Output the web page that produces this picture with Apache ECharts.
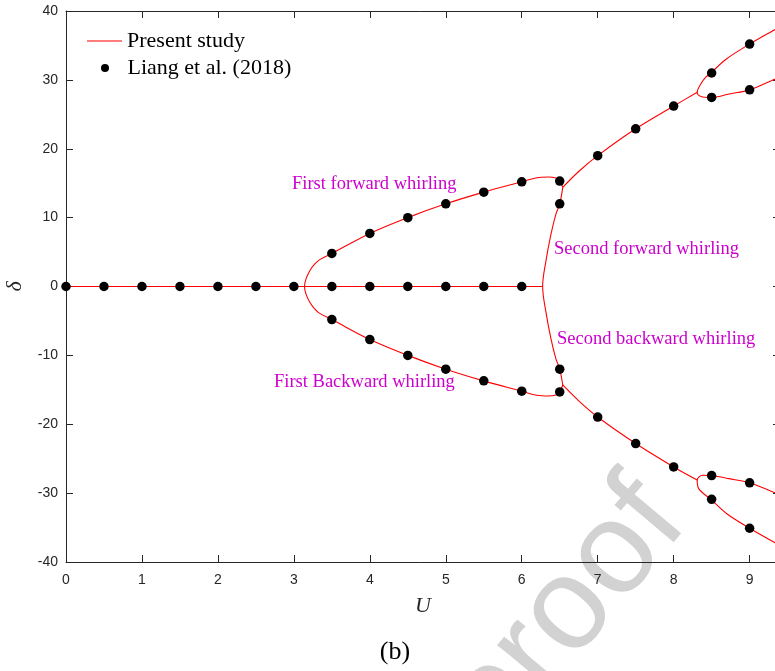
<!DOCTYPE html>
<html>
<head>
<meta charset="utf-8">
<script src="https://cdn.jsdelivr.net/npm/echarts@6/dist/echarts.min.js"></script>
<style>
  html, body { margin: 0; padding: 0; background: #fff; }
  #chart { width: 775px; height: 671px; }
</style>
</head>
<body>
<div id="chart"></div>
<script>
// Axis ranges and tick settings
const uMin = 0, uMax = 9.4, uStep = 1;
const dMin = -40, dMax = 40, dStep = 10;

// Present study: computed branches as [U, delta] pairs
const stationaryBranch = [[0, 0], [6.275, 0]];
const firstWhirlLoop = [
  [6.54, -14.3], [6.5, -15.3], [6.45, -15.75], [6.35, -15.9], [6.2, -15.8], [6.0, -15.2],
  [5.5, -13.7], [5.0, -12.0], [4.5, -10.0], [4.0, -7.7], [3.5, -4.8], [3.34, -3.9],
  [3.27, -3.2], [3.21, -2.3], [3.16, -1.1], [3.14, 0],
  [3.16, 1.1], [3.21, 2.3], [3.27, 3.2], [3.34, 3.9], [3.5, 4.8], [4.0, 7.7],
  [4.5, 10.0], [5.0, 12.0], [5.5, 13.7], [6.0, 15.2], [6.2, 15.8], [6.35, 15.9],
  [6.45, 15.75], [6.5, 15.3], [6.54, 14.4]
];
const secondWhirlArc = [
  [6.54, -14.3], [6.5, -12.0], [6.45, -10.5], [6.385, -7.6], [6.32, -3.8], [6.275, 0],
  [6.32, 3.8], [6.385, 7.6], [6.45, 10.5], [6.5, 12.0], [6.54, 14.4]
];
const upperTrunk = [[6.54, 14.4], [6.75, 16.7], [7.0, 19.0], [7.5, 22.9], [8.0, 26.2], [8.31, 28.2]];
const upperFork = [
  [9.4, 37.7], [9.3, 37.1], [9.0, 35.2], [8.69, 33.0], [8.49, 31.0], [8.42, 30.35],
  [8.357, 29.4], [8.31, 28.2], [8.357, 27.6], [8.49, 27.45], [8.73, 27.95],
  [9.0, 28.55], [9.3, 29.95], [9.4, 30.4]
];
const lowerTrunk = [[6.54, -14.3], [6.75, -16.6], [7.0, -18.95], [7.5, -22.8], [8.0, -26.2], [8.31, -28.1]];
const lowerFork = [
  [9.4, -30.2], [9.3, -29.8], [9.0, -28.5], [8.73, -27.9], [8.49, -27.45], [8.38, -27.4],
  [8.31, -28.1], [8.33, -29.35], [8.49, -30.9], [8.7, -33.0], [9.0, -35.1],
  [9.3, -37.0], [9.4, -37.6]
];

// Liang et al. (2018) reference points
const liangU = [
  0, 0.5, 1, 1.5, 2, 2.5, 3, 3.5, 4, 4.5, 5, 5.5, 6,
  3.5, 4, 4.5, 5, 5.5, 6, 6.5,
  3.5, 4, 4.5, 5, 5.5, 6, 6.5,
  6.5, 6.5,
  7, 7.5, 8, 8.5, 8.5, 9, 9,
  7, 7.5, 8, 8.5, 8.5, 9, 9
];
const liangDelta = [
  0, 0, 0, 0, 0, 0, 0, 0, 0, 0, 0, 0, 0,
  4.8, 7.7, 10.0, 12.0, 13.7, 15.2, 15.3,
  -4.8, -7.7, -10.0, -12.0, -13.7, -15.2, -15.3,
  12.0, -12.0,
  19.0, 22.9, 26.2, 31.0, 27.45, 35.2, 28.55,
  -18.95, -22.8, -26.2, -27.45, -30.9, -28.5, -35.1
];

// Branch names and their label anchors (pixels)
const branchLabels = [
  { text: 'First forward whirling', x: 292, y: 184 },
  { text: 'First Backward whirling', x: 274, y: 382 },
  { text: 'Second forward whirling', x: 554, y: 249 },
  { text: 'Second backward whirling', x: 557, y: 339 }
];

const axisColor = '#262626';
const serif = '"Liberation Serif", "Times New Roman", serif';
const sans = '"Liberation Sans", Arial, Helvetica, sans-serif';

const branches = [stationaryBranch, firstWhirlLoop, secondWhirlArc, upperTrunk, upperFork, lowerTrunk, lowerFork];

const lineSeries = branches.map(b => ({
  name: 'Present study',
  type: 'line',
  data: b,
  showSymbol: false,
  symbol: 'none',
  smooth: 0.35,
  lineStyle: { color: '#ff0000', width: 1.1 },
  itemStyle: { color: '#ff0000' },
  animation: false,
  z: 3
}));

const scatterSeries = {
  name: 'Liang et al. (2018)',
  type: 'scatter',
  data: liangU.map((u, i) => [u, liangDelta[i]]),
  symbol: 'circle',
  symbolSize: 9.5,
  itemStyle: { color: '#000000', opacity: 1 },
  animation: false,
  z: 5
};

const chart = echarts.init(document.getElementById('chart'), null, { renderer: 'canvas' });

const baseX = {
  type: 'value', min: uMin, max: uMax, interval: uStep,
  splitLine: { show: false },
  axisLine: { show: true, onZero: false, lineStyle: { color: axisColor, width: 1 } },
  axisTick: { show: true, inside: true, length: 7, lineStyle: { color: axisColor } }
};
const baseY = {
  type: 'value', min: dMin, max: dMax, interval: dStep,
  splitLine: { show: false },
  axisLine: { show: true, onZero: false, lineStyle: { color: axisColor, width: 1 } },
  axisTick: { show: true, inside: true, length: 7, lineStyle: { color: axisColor } }
};

chart.setOption({
  backgroundColor: '#ffffff',
  animation: false,
  grid: { left: 66, right: -5, top: 11, bottom: 109, containLabel: false, outerBoundsMode: 'none' },
  xAxis: [
    Object.assign({}, baseX, {
      position: 'bottom',
      name: 'U', nameLocation: 'middle', nameGap: 33,
      nameTextStyle: { fontFamily: serif, fontStyle: 'italic', fontSize: 22, color: axisColor },
      axisLabel: { show: true, margin: 11, fontFamily: sans, fontSize: 14, color: axisColor, showMaxLabel: false }
    }),
    Object.assign({}, baseX, { position: 'top', axisLabel: { show: false } })
  ],
  yAxis: [
    Object.assign({}, baseY, {
      position: 'left',
      name: 'δ', nameLocation: 'middle', nameGap: 40, nameRotate: 90,
      nameTextStyle: { fontFamily: serif, fontStyle: 'italic', fontSize: 22, color: axisColor },
      axisLabel: { show: true, margin: 8, fontFamily: sans, fontSize: 14, color: axisColor }
    }),
    Object.assign({}, baseY, { position: 'right', axisLabel: { show: false } })
  ],
  legend: [
    {
      data: [{ name: 'Present study', icon: 'rect' }], orient: 'vertical', left: 82, top: 25,
      itemWidth: 35, itemHeight: 1.2, itemGap: 0, symbolKeepAspect: false,
      itemStyle: { color: '#ff0000' },
      textStyle: { fontFamily: serif, fontSize: 22, color: '#000' },
      selectedMode: false
    },
    {
      data: [{ name: 'Liang et al. (2018)', icon: 'circle' }], orient: 'vertical', left: 96, top: 52,
      itemWidth: 35, itemHeight: 8, itemGap: 0,
      textStyle: { fontFamily: serif, fontSize: 22, color: '#000' },
      selectedMode: false
    }
  ],
  graphic: [
    // faint diagonal watermark behind everything
    {
      type: 'text', x: 662, y: 500, rotation: 50 * Math.PI / 180, z: -10, silent: true,
      style: {
        text: 'Journal Pre-proof', fill: '#d2d2d2',
        font: '131px ' + sans, textAlign: 'right', textVerticalAlign: 'middle'
      }
    },
    ...branchLabels.map(l => ({
      type: 'text', x: l.x, y: l.y, z: 10, silent: true,
      style: { text: l.text, fill: '#cc00cc', font: '18.5px ' + serif, textAlign: 'left', textVerticalAlign: 'middle' }
    })),
    {
      type: 'text', x: 395, y: 652, z: 10, silent: true,
      style: { text: '(b)', fill: '#000', font: '26px ' + serif, textAlign: 'center', textVerticalAlign: 'middle' }
    }
  ],
  series: [...lineSeries, scatterSeries]
});
</script>
</body>
</html>
